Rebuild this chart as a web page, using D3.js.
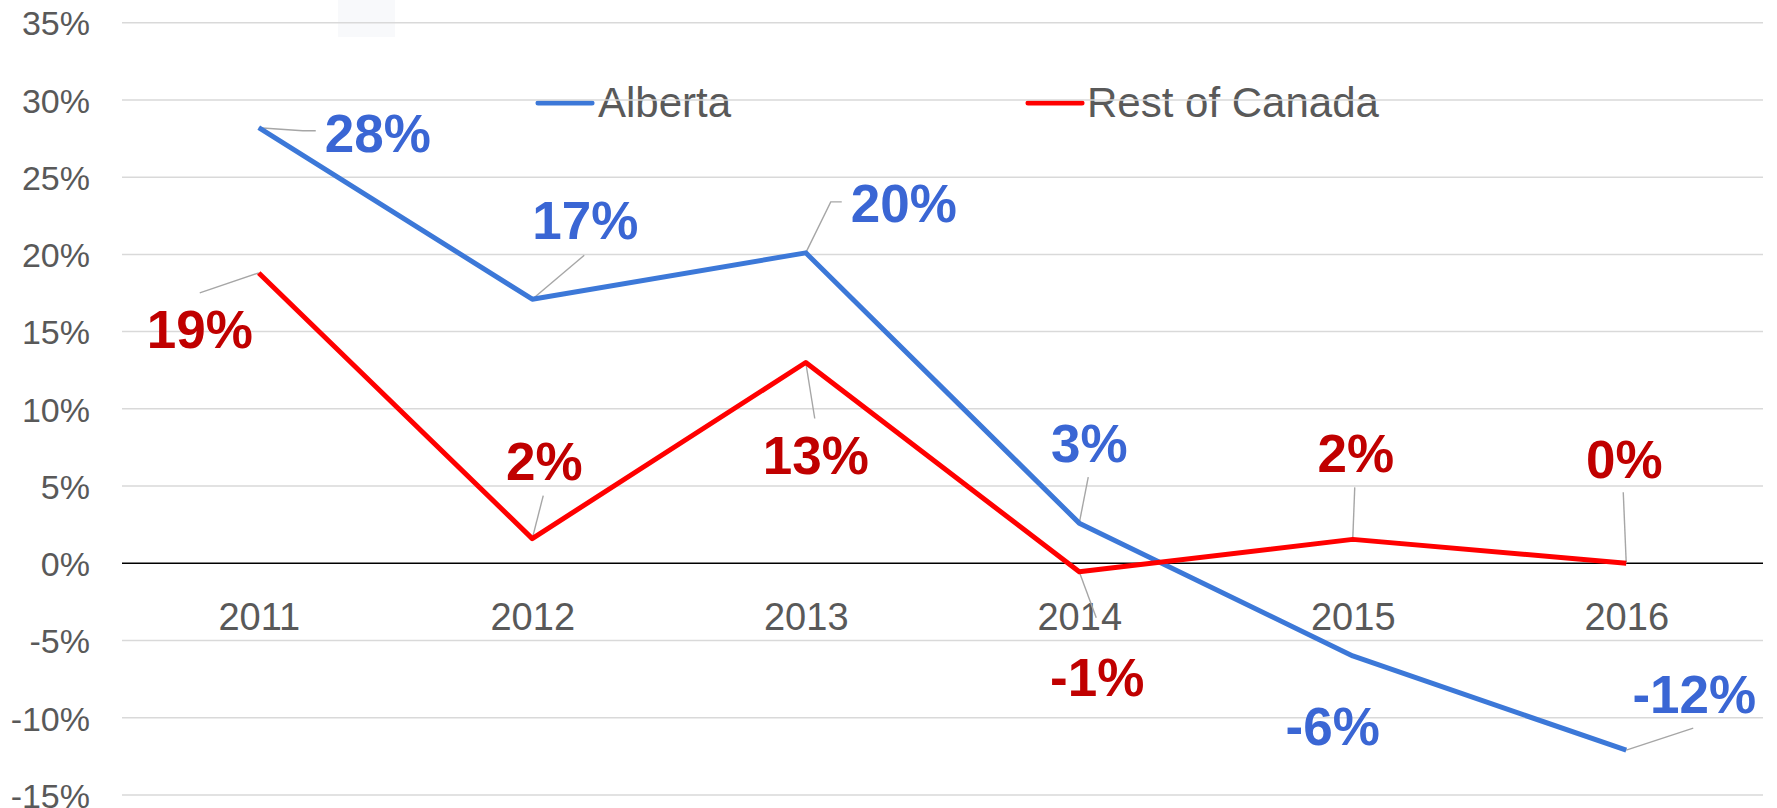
<!DOCTYPE html>
<html>
<head>
<meta charset="utf-8">
<script src="https://cdn.jsdelivr.net/npm/d3@7"></script>
<style>
  html, body { margin: 0; padding: 0; background: #ffffff; }
  svg { display: block; font-family: "Liberation Sans", Arial, sans-serif; }
</style>
</head>
<body>
<svg id="chart" width="1777" height="808"></svg>
<script>
// ---- data ----
const years = ["2011", "2012", "2013", "2014", "2015", "2016"];
const alberta = [28.2, 17.1, 20.1, 2.6, -6.0, -12.1];
const restOfCanada = [18.8, 1.6, 13.0, -0.55, 1.55, 0.0];
const seriesNames = ["Alberta", "Rest of Canada"];
const yTicks = [-15, -10, -5, 0, 5, 10, 15, 20, 25, 30, 35];

// ---- layout (label offsets from point, leader-line vertices) ----
const albertaLabelLayout = [
  { t: [119, 5],   leader: [[44, 3], [57, 3]] },
  { t: [53, -79],  leader: [[52, -44]] },
  { t: [98, -50],  leader: [[25, -51], [36, -51]] },
  { t: [10, -80],  leader: [[9, -46]] },
  { t: [-20, 70],  leader: [] },
  { t: [68, -56],  leader: [[67, -22]] }
];
const restLabelLayout = [
  { t: [-59, 56],  leader: [[-59, 20]] },
  { t: [12, -78],  leader: [[11, -43]] },
  { t: [10, 92],   leader: [[9, 56]] },
  { t: [18, 105],  leader: [[17, 46]] },
  { t: [3, -86],   leader: [[2, -52]] },
  { t: [-2, -104], leader: [[-3, -71]] }
];

const svg = d3.select("#chart");
const plotLeft = 122, plotRight = 1763;

const x = d3.scalePoint().domain(years).range([plotLeft, plotRight]).padding(0.5);
const y = d3.scaleLinear().domain([-15, 35]).range([795, 22.7]);

// faint artifact box at top
svg.append("rect").attr("x", 338).attr("y", 0).attr("width", 57).attr("height", 37)
  .attr("fill", "#f8f9fb");

// ---- legend (drawn under gridlines, as in reference) ----
const legendItems = [
  { name: seriesNames[0], color: "#3c78d8", x1: 538, x2: 592, tx: 598 },
  { name: seriesNames[1], color: "#ff0000", x1: 1028, x2: 1082, tx: 1087 }
];
const lg = svg.append("g");
legendItems.forEach(d => {
  lg.append("line").attr("x1", d.x1).attr("x2", d.x2).attr("y1", 103).attr("y2", 103)
    .attr("stroke", d.color).attr("stroke-width", 5).attr("stroke-linecap", "round");
  lg.append("text").attr("x", d.tx).attr("y", 116.5).text(d.name)
    .attr("font-size", 42).attr("fill", "#595959");
});

// ---- gridlines ----
const grid = svg.append("g");
grid.selectAll("line").data(yTicks.filter(v => v !== 0)).join("line")
  .attr("x1", plotLeft).attr("x2", plotRight)
  .attr("y1", d => y(d)).attr("y2", d => y(d))
  .attr("stroke", "#d9d9d9").attr("stroke-width", 1.5);

// ---- y axis labels ----
const yAxis = d3.axisLeft(y).tickValues(yTicks).tickFormat(d => d + "%").tickSize(0).tickPadding(32);
const yg = svg.append("g").attr("transform", `translate(${plotLeft},0)`).call(yAxis);
yg.select(".domain").remove();
yg.selectAll("text").attr("font-size", 34).attr("fill", "#595959")
  .attr("font-family", "'Liberation Sans', Arial, sans-serif").attr("dy", "0.36em");

// ---- zero line ----
svg.append("line").attr("x1", plotLeft).attr("x2", plotRight)
  .attr("y1", y(0)).attr("y2", y(0)).attr("stroke", "#000").attr("stroke-width", 1.5);

// ---- x axis labels ----
const xAxis = d3.axisBottom(x).tickSize(0);
const xg = svg.append("g").attr("transform", `translate(0,${y(0)})`).call(xAxis);
xg.select(".domain").remove();
xg.selectAll("text").attr("font-size", 38).attr("fill", "#595959")
  .attr("font-family", "'Liberation Sans', Arial, sans-serif")
  .attr("y", 67).attr("dy", 0);

// ---- series ----
const series = [
  { values: alberta, color: "#3c78d8", labelColor: "#3a66d4", layout: albertaLabelLayout },
  { values: restOfCanada, color: "#ff0000", labelColor: "#c00000", layout: restLabelLayout }
];

// leader lines
series.forEach(s => {
  s.values.forEach((v, i) => {
    const px = x(years[i]), py = y(v);
    const pts = [[px, py]].concat(s.layout[i].leader.map(p => [px + p[0], py + p[1]]));
    if (pts.length > 1) {
      svg.append("path").attr("d", d3.line()(pts))
        .attr("fill", "none").attr("stroke", "#a6a6a6").attr("stroke-width", 1.4);
    }
  });
});

const line = d3.line().x((d, i) => x(years[i])).y(d => y(d));
series.forEach(s => {
  svg.append("path").datum(s.values).attr("d", line)
    .attr("fill", "none").attr("stroke", s.color).attr("stroke-width", 5)
    .attr("stroke-linejoin", "round");
});

// data labels
series.forEach(s => {
  svg.append("g").selectAll("text").data(s.values).join("text")
    .attr("x", (d, i) => x(years[i]) + s.layout[i].t[0])
    .attr("y", (d, i) => y(d) + s.layout[i].t[1])
    .attr("dy", "0.36em")
    .attr("text-anchor", "middle")
    .attr("font-size", 53).attr("font-weight", "bold")
    .attr("fill", s.labelColor)
    .text(d => Math.round(d) + "%");
});
</script>
</body>
</html>
